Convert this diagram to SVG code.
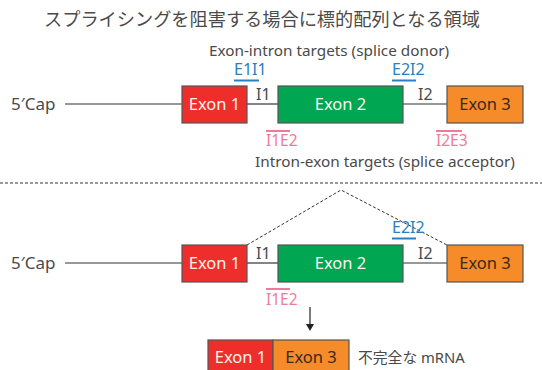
<svg xmlns="http://www.w3.org/2000/svg" width="542" height="370" viewBox="0 0 542 370">
<style>
text{font-family:"Noto Sans","Noto Sans CJK JP",sans-serif;fill:#4a4a4a}
.t{font-size:15.3px}
.lab{font-size:16px}
.ex{font-size:16.5px;text-anchor:middle}
.w{fill:#fff3f0}
.d{fill:#3a2a1a}
.blue{fill:#2a7fc0;font-size:16px}
.pink{fill:#f07a9a;font-size:15.5px}
.box{stroke:#555;stroke-width:1.2}
.line{stroke:#333;stroke-width:1.2;fill:none}
.dash{stroke:#333;stroke-width:1;stroke-dasharray:3,2;fill:none}
</style>
<text x="262" y="26" font-size="18.2" text-anchor="middle" style="font-family:'Noto Sans CJK JP',sans-serif">スプライシングを阻害する場合に標的配列となる領域</text>
<text x="329" y="56" class="t" text-anchor="middle">Exon-intron targets (splice donor)</text>
<text x="385" y="167" class="t" text-anchor="middle">Intron-exon targets (splice acceptor)</text>
<g id="connectors">
<line class="line" x1="65" y1="104" x2="182" y2="104"/>
<line class="line" x1="247" y1="104" x2="278" y2="104"/>
<line class="line" x1="403" y1="104" x2="447" y2="104"/>
<line class="line" x1="65" y1="263" x2="182" y2="263"/>
<line class="line" x1="247" y1="263" x2="278" y2="263"/>
<line class="line" x1="403" y1="263" x2="447" y2="263"/>
<line x1="0" y1="183" x2="542" y2="183" stroke="#333" stroke-width="1" stroke-dasharray="3,2"/>
<polyline class="dash" points="247,245 341,190 447,245"/>
<line x1="310" y1="307" x2="310" y2="326" stroke="#222" stroke-width="1.2"/>
<path d="M306,324 L314,324 L310,331 Z" fill="#222"/>
</g>
<g id="top-row">
<text x="11" y="110" font-size="17">5′Cap</text>
<g id="t-exon1"><rect class="box" x="182" y="86" width="65" height="37" fill="#ee2e2b"/><text class="ex w" x="214.5" y="110">Exon 1</text></g>
<g id="t-exon2"><rect class="box" x="278" y="86" width="125" height="37" fill="#00a651"/><text class="ex w" x="340.5" y="110">Exon 2</text></g>
<g id="t-exon3"><rect class="box" x="447" y="86" width="76" height="37" fill="#f68b2a"/><text class="ex d" x="485" y="110">Exon 3</text></g>
<text x="256" y="100" class="lab">I1</text>
<text x="418" y="100" class="lab">I2</text>
<text x="234" y="75" class="blue">E1I1</text>
<line x1="234" y1="80.5" x2="259" y2="80.5" stroke="#2a7fc0" stroke-width="2"/>
<text x="392" y="75" class="blue">E2I2</text>
<line x1="392" y1="80.5" x2="416" y2="80.5" stroke="#2a7fc0" stroke-width="2"/>
<line x1="266" y1="131" x2="290" y2="131" stroke="#f07a9a" stroke-width="2"/>
<text x="266" y="145.5" class="pink">I1E2</text>
<line x1="436" y1="131" x2="462" y2="131" stroke="#f07a9a" stroke-width="2"/>
<text x="436" y="145.5" class="pink">I2E3</text>
</g>
<g id="bottom-row">
<text x="11" y="269" font-size="17">5′Cap</text>
<g id="b-exon1"><rect class="box" x="182" y="245" width="65" height="37" fill="#ee2e2b"/><text class="ex w" x="214.5" y="269">Exon 1</text></g>
<g id="b-exon2"><rect class="box" x="278" y="245" width="125" height="37" fill="#00a651"/><text class="ex w" x="340.5" y="269">Exon 2</text></g>
<g id="b-exon3"><rect class="box" x="447" y="245" width="76" height="37" fill="#f68b2a"/><text class="ex d" x="485" y="269">Exon 3</text></g>
<text x="256" y="259" class="lab">I1</text>
<text x="418" y="259" class="lab">I2</text>
<text x="392" y="233" class="blue">E2I2</text>
<line x1="392" y1="238.5" x2="416" y2="238.5" stroke="#2a7fc0" stroke-width="2"/>
<line x1="266" y1="289" x2="290" y2="289" stroke="#f07a9a" stroke-width="2"/>
<text x="266" y="305" class="pink">I1E2</text>
</g>
<g id="mrna">
<rect class="box" x="208" y="340" width="65" height="37" fill="#ee2e2b"/>
<text class="ex w" x="240.5" y="363">Exon 1</text>
<rect class="box" x="273" y="340" width="76" height="37" fill="#f68b2a"/>
<text class="ex d" x="311" y="363">Exon 3</text>
<text x="358" y="363" font-size="14.8">不完全な mRNA</text>
</g>
</svg>
